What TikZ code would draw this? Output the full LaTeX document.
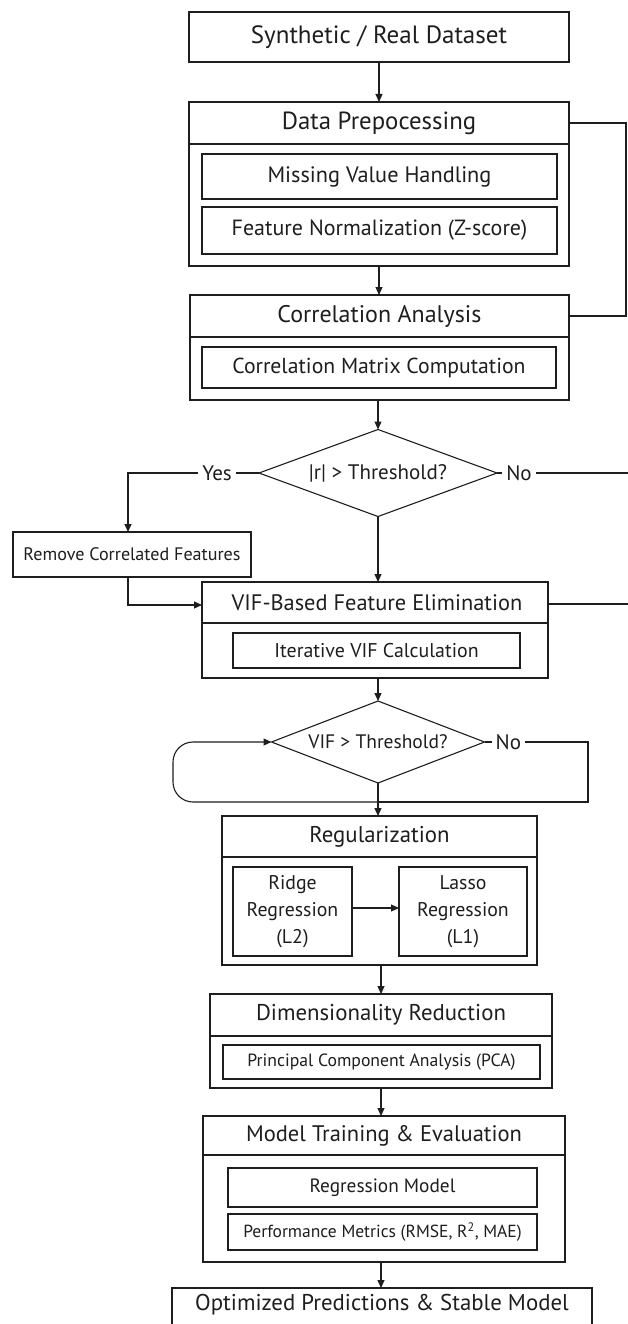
\documentclass[tikz,border=0pt]{standalone}
\usepackage{fontspec}
\setmainfont{PT Sans}
\usetikzlibrary{arrows.meta,shapes.geometric,calc}
\definecolor{ink}{RGB}{30,30,30}
\begin{document}
\begin{tikzpicture}[x=1pt,y=-1pt,
  fs/.style={font=\fontsize{#1pt}{27pt}\selectfont},
  box/.style={draw=ink,line width=1.1pt,rectangle,inner sep=0pt,outer sep=0pt,text=ink},
  dia/.style={draw=ink,line width=1.1pt,diamond,inner sep=0pt,outer sep=0pt},
  ttl/.style={inner sep=0pt,text=ink},
  ln/.style={draw=ink,line width=1.1pt},
  arr/.style={ln,-{Triangle[length=8pt,width=7pt]}},
  lab/.style={fill=white,inner sep=4pt,text=ink,fs=21}]
\useasboundingbox[fill=white] (0,0) rectangle (627,1324);

% 1 dataset
\node[box,minimum width=380,minimum height=50,fs=25] (syn) at (379,37) {Synthetic / Real Dataset};

% 2 data preprocessing
\node[box,minimum width=380,minimum height=164] (dp) at (379,184) {};
\draw[ln] (dp.west |- 0,144) -- (dp.east |- 0,144);
\node[ttl,fs=24.8] (dpt) at (379,123) {Data Prepocessing};
\node[box,minimum width=355,minimum height=45,fs=22.3] (mv) at (379.5,176.5) {Missing Value Handling};
\node[box,minimum width=355,minimum height=47,fs=22] (fn) at (379.5,230.5) {Feature Normalization (Z-score)};

% 3 correlation analysis
\node[box,minimum width=379,minimum height=105] (ca) at (379.5,347.5) {};
\draw[ln] (ca.west |- 0,337) -- (ca.east |- 0,337);
\node[ttl,fs=24] (cat) at (379.5,316) {Correlation Analysis};
\node[box,minimum width=354,minimum height=41,fs=21.7] (cm) at (379,367.5) {Correlation Matrix Computation};

% 4 decision 1
\node[dia,minimum width=238,minimum height=87] (d1) at (378,473) {};
\node[ttl,fs=21] (d1t) at (378,473) {|r| > Threshold?};

% 5 remove
\node[box,minimum width=238,minimum height=45,fs=18.1] (rm) at (132,554.5) {Remove Correlated Features};
\coordinate (yk) at (128,473);

% 6 VIF
\node[box,minimum width=346,minimum height=96] (vif) at (375,630) {};
\draw[ln] (vif.west |- 0,623) -- (vif.east |- 0,623);
\node[ttl,fs=22.4] (vift) at (377,603) {VIF-Based Feature Elimination};
\node[box,minimum width=287,minimum height=35,fs=19.9] (ivc) at (376.5,650.5) {Iterative VIF Calculation};

% 7 decision 2
\node[dia,minimum width=213,minimum height=82] (d2) at (378,742) {};
\node[ttl,fs=19.5] (d2t) at (378,742) {VIF > Threshold?};
\coordinate (j2) at (378,802);

% 8 regularization
\node[box,minimum width=315,minimum height=149] (reg) at (379.5,890.5) {};
\draw[ln] (reg.west |- 0,857) -- (reg.east |- 0,857);
\node[ttl,fs=22.8] (regt) at (379.5,837) {Regularization};
\node[box,minimum width=119,minimum height=89,align=center,fs=19.8] (ridge) at (292.5,911.5) {Ridge\\Regression\\(L2)};
\node[box,minimum width=128,minimum height=89,align=center,fs=19.8] (lasso) at (463,911.5) {Lasso\\Regression\\(L1)};

% 9 dimensionality reduction
\node[box,minimum width=342,minimum height=94] (dr) at (381,1041) {};
\draw[ln] (dr.west |- 0,1036) -- (dr.east |- 0,1036);
\node[ttl,fs=22.8] (drt) at (381,1015) {Dimensionality Reduction};
\node[box,minimum width=317,minimum height=34,fs=17.7] (pca) at (381.5,1062) {Principal Component Analysis (PCA)};

% 10 model training
\node[box,minimum width=362,minimum height=146] (mt) at (384,1189) {};
\draw[ln] (mt.west |- 0,1155) -- (mt.east |- 0,1155);
\node[ttl,fs=22.5] (mtt) at (384,1136) {Model Training \& Evaluation};
\node[box,minimum width=309,minimum height=39,fs=19.3] (rmod) at (382.5,1187.5) {Regression Model};
\node[box,minimum width=309,minimum height=36,fs=17.5] (perf) at (382.5,1232) {Performance Metrics (RMSE, R\textsuperscript{2}, MAE)};

% 11 output
\node[box,minimum width=420,minimum height=54] (opt) at (382,1315) {};
\node[ttl,fs=22.8] (optt) at (382,1305) {Optimized Predictions \& Stable Model};

% connectors
\draw[arr] (syn.south) -- (syn.south |- dp.north);
\draw[arr] (dp.south) -- (dp.south |- ca.north);
\draw[ln] (dp.east |- dpt) -- (626,123) |- (ca.east |- cat);
\draw[arr] (ca.south -| d1) -- (d1.north);
\draw[arr] (d1.west) -- node[lab,pos=.32]{Yes} (yk) -- (yk |- rm.north);
\draw[ln] (d1.east) -- node[lab,pos=.165]{No} (630,473) -- (630,604) -- (vif.east |- 0,604);
\draw[arr] (rm.south -| yk) |- (vif.west |- 0,605);
\draw[arr] (d1.south) -- (d1.south |- vif.north);
\draw[arr] (vif.south -| d2) -- (d2.north);
\draw[ln] (d2.south) -- (j2);
\draw[arr,rounded corners=20pt] (j2) -- (173,802) -- (173,742) -- (d2.west);
\draw[ln] (d2.east) -- node[lab,pos=.23]{No} (588,742) -- (588,802) -- (j2);
\draw[arr] (j2) -- (j2 |- reg.north);
\draw[arr] (ridge.east |- 0,908) -- (lasso.west |- 0,908);
\draw[arr] (reg.south -| dr) -- (dr.north);
\draw[arr] (dr.south) -- (dr.south |- mt.north);
\draw[arr] (mt.south -| 381,0) -- (opt.north -| 381,0);
\end{tikzpicture}
\end{document}
